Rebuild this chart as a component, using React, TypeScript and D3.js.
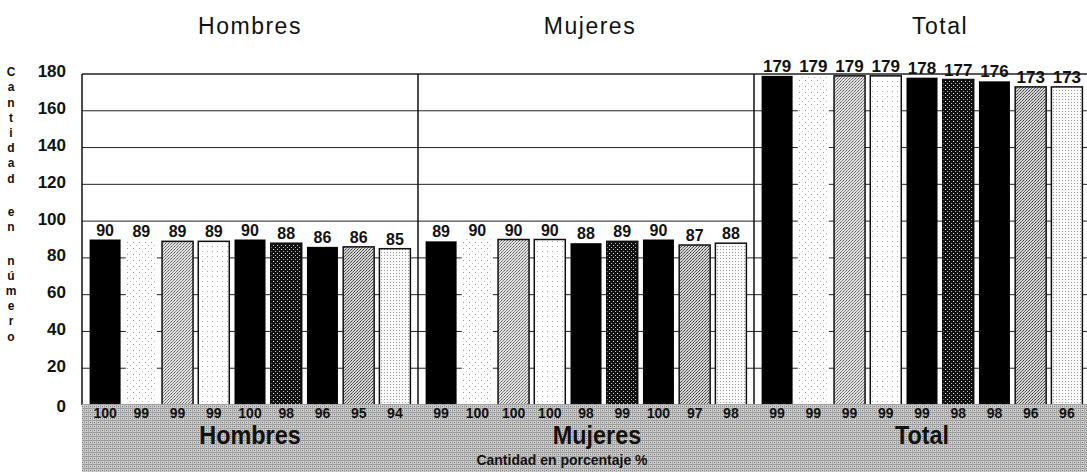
import React from "react";
import * as d3 from "d3";

const groups = ["Hombres", "Mujeres", "Total"];
const hombresCounts = [90, 89, 89, 89, 90, 88, 86, 86, 85];
const mujeresCounts = [89, 90, 90, 90, 88, 89, 90, 87, 88];
const totalCounts = [179, 179, 179, 179, 178, 177, 176, 173, 173];
const hombresPct = [100, 99, 99, 99, 100, 98, 96, 95, 94];
const mujeresPct = [99, 100, 100, 100, 98, 99, 100, 97, 98];
const totalPct = [99, 99, 99, 99, 99, 98, 98, 96, 96];
const yTicks = [0, 20, 40, 60, 80, 100, 120, 140, 160, 180];
const yTitle = "Cantidad en número";
const xTitle = "Cantidad en porcentaje %";

const W = 1087;
const H = 472;
const left = 82;
const right = 1090;
const top = 74;
const bottom = 405;

// fills for the nine bar series
const barFills = [
  "#000",
  "url(#pWhite)",
  "url(#pStipple)",
  "url(#pWhite2)",
  "#000",
  "url(#pDark)",
  "#000",
  "url(#pStipple2)",
  "url(#pLight)",
];
const barStroke = [false, false, true, true, false, true, false, true, true];
const titleDx = [0, 4, 18];
const bottomDx = [0, 11, 0];

export default function App() {
  const counts = [hombresCounts, mujeresCounts, totalCounts];
  const pcts = [hombresPct, mujeresPct, totalPct];
  const x0 = d3.scaleBand<string>().domain(groups).range([left, right]).padding(0);
  const x1 = d3
    .scaleBand<number>()
    .domain(d3.range(9))
    .range([0, x0.bandwidth()])
    .paddingInner(0.144)
    .paddingOuter(0.21);
  const y = d3.scaleLinear().domain([0, 180]).range([bottom, top]);
  const bw = x1.bandwidth();

  const letters = yTitle.split("");
  let pos = 0;
  const letterPos: { ch: string; y: number }[] = [];
  letters.forEach((ch) => {
    if (ch === " ") {
      pos += 1.2;
      return;
    }
    letterPos.push({ ch, y: top - 1 + pos * 15.2 });
    pos += 1;
  });

  return (
    <svg
      width={W}
      height={H}
      style={{ position: "absolute", left: 0, top: 0, display: "block", background: "#fff" }}
      fontFamily="Arial, 'Liberation Sans', Helvetica, sans-serif"
    >
      <defs>
        <pattern id="pWhite" width="6" height="6" patternUnits="userSpaceOnUse">
          <rect width="6" height="6" fill="#fff" />
          <rect x="1" y="2" width="1" height="1" fill="#999" />
          <rect x="4" y="5" width="1" height="1" fill="#bbb" />
        </pattern>
        <pattern id="pWhite2" width="5" height="5" patternUnits="userSpaceOnUse">
          <rect width="5" height="5" fill="#fff" />
          <rect x="2" y="1" width="1" height="1" fill="#aaa" />
        </pattern>
        <pattern id="pStipple" width="3" height="3" patternUnits="userSpaceOnUse">
          <rect width="3" height="3" fill="#e4e4e4" />
          <rect x="0" y="0" width="1" height="1" fill="#555" />
          <rect x="2" y="1" width="1" height="1" fill="#777" />
          <rect x="1" y="2" width="1" height="1" fill="#888" />
        </pattern>
        <pattern id="pStipple2" width="3" height="3" patternUnits="userSpaceOnUse">
          <rect width="3" height="3" fill="#d8d8d8" />
          <rect x="0" y="0" width="1" height="1" fill="#333" />
          <rect x="2" y="1" width="1" height="1" fill="#555" />
          <rect x="1" y="2" width="1" height="1" fill="#666" />
        </pattern>
        <pattern id="pDark" width="4" height="4" patternUnits="userSpaceOnUse">
          <rect width="4" height="4" fill="#111" />
          <rect x="1" y="1" width="1" height="1" fill="#ddd" />
          <rect x="3" y="3" width="1" height="1" fill="#bbb" />
        </pattern>
        <pattern id="pLight" width="3" height="3" patternUnits="userSpaceOnUse">
          <rect width="3" height="3" fill="#fafafa" />
          <rect x="0" y="0" width="1" height="1" fill="#999" />
        </pattern>
        <pattern id="pBand" width="4" height="4" patternUnits="userSpaceOnUse">
          <rect width="4" height="4" fill="#d0d0d0" />
          <rect x="0" y="0" width="4" height="1" fill="#9a9a9a" />
          <rect x="0" y="0" width="1" height="4" fill="#a8a8a8" />
          <rect x="2" y="2" width="1" height="1" fill="#666" />
        </pattern>
      </defs>

      {/* top titles */}
      {groups.map((g, i) => (
        <text
          key={"t" + g}
          x={(x0(g) as number) + x0.bandwidth() / 2 + titleDx[i]}
          y={34}
          textAnchor="middle"
          fontSize={23}
          letterSpacing={1.5}
          fill="#111"
        >
          {g}
        </text>
      ))}

      {/* y axis vertical title */}
      {letterPos.map((l, i) => (
        <text key={"yl" + i} x={11} y={l.y} textAnchor="middle" fontSize={12} fontWeight="bold" fill="#111" dominantBaseline="middle">
          {l.ch}
        </text>
      ))}

      {/* y tick labels */}
      {yTicks.map((t) => (
        <text key={"yt" + t} x={66} y={y(t) + (t === 0 ? 3 : -1)} textAnchor="end" dominantBaseline="middle" fontSize={17} fontWeight="bold" fill="#111">
          {t}
        </text>
      ))}

      {/* grid lines */}
      {yTicks.filter((t) => t > 0).map((t) => (
        <line key={"g" + t} x1={left} x2={right} y1={y(t)} y2={y(t)} stroke="#222" strokeWidth={t === 180 ? 1.5 : 1} />
      ))}

      {/* axis and dividers */}
      <line x1={left} x2={left} y1={top} y2={bottom} stroke="#111" strokeWidth={1.5} />
      {groups.slice(1).map((g) => (
        <line key={"d" + g} x1={x0(g) as number} x2={x0(g) as number} y1={top} y2={bottom} stroke="#111" strokeWidth={1.5} />
      ))}

      {/* bars */}
      {groups.map((g, gi) =>
        counts[gi].map((v, i) => {
          const bx = (x0(g) as number) + (x1(i) as number);
          return (
            <g key={g + i}>
              <rect
                x={bx}
                y={y(v)}
                width={bw}
                height={bottom - y(v)}
                fill={barFills[i]}
                stroke={barStroke[i] ? "#111" : "none"}
                strokeWidth={1.5}
              />
              <text
                x={bx + bw / 2}
                y={y(v) - 4}
                textAnchor="middle"
                fontSize={gi === 2 ? 17 : 16}
                fontWeight="bold"
                fill="#111"
              >
                {v}
              </text>
            </g>
          );
        })
      )}

      {/* bottom band */}
      <rect x={left} y={bottom - 1} width={right - left} height={H - bottom + 1} fill="url(#pBand)" />
      {groups.map((g, gi) =>
        pcts[gi].map((p, i) => {
          const bx = (x0(g) as number) + (x1(i) as number);
          return (
            <text key={"p" + g + i} x={bx + bw / 2} y={418} textAnchor="middle" fontSize={14} fontWeight="bold" fill="#111">
              {p}
            </text>
          );
        })
      )}
      {groups.map((g, gi) => {
        const cx = (x0(g) as number) + x0.bandwidth() / 2 + bottomDx[gi];
        return (
          <text
            key={"b" + g}
            x={cx}
            y={444}
            textAnchor="middle"
            fontSize={26}
            fontWeight="bold"
            fill="#111"
            transform={`translate(${cx * 0.1},0) scale(0.9,1)`}
          >
            {g}
          </text>
        );
      })}
      <text x={562} y={465} textAnchor="middle" fontSize={14} fontWeight="bold" fill="#111">
        {xTitle}
      </text>
    </svg>
  );
}
